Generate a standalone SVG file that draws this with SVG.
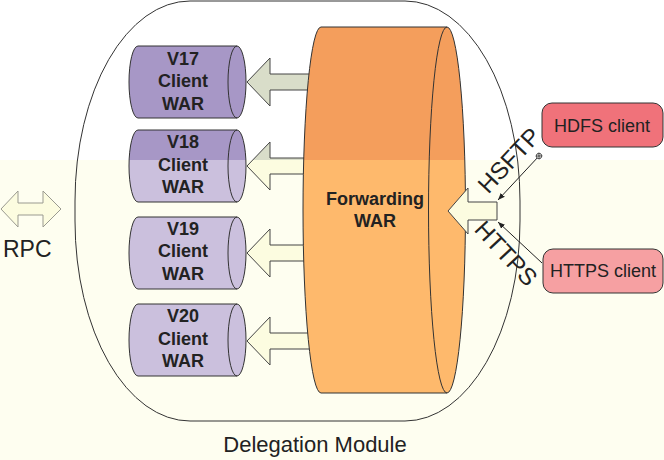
<svg xmlns="http://www.w3.org/2000/svg" width="664" height="460" viewBox="0 0 664 460">
<defs>
<linearGradient id="gPurple" gradientUnits="userSpaceOnUse" x1="0" y1="0" x2="0" y2="460">
<stop offset="0" stop-color="#a797c6"/><stop offset="0.3478" stop-color="#a797c6"/><stop offset="0.3478" stop-color="#cbc0dd"/><stop offset="1" stop-color="#cbc0dd"/>
</linearGradient>
<linearGradient id="gOrange" gradientUnits="userSpaceOnUse" x1="0" y1="0" x2="0" y2="460">
<stop offset="0" stop-color="#f49e5c"/><stop offset="0.3478" stop-color="#f49e5c"/><stop offset="0.3478" stop-color="#feb96c"/><stop offset="1" stop-color="#feb96c"/>
</linearGradient>
<linearGradient id="gArrow" gradientUnits="userSpaceOnUse" x1="0" y1="0" x2="0" y2="460">
<stop offset="0" stop-color="#d9ddc9"/><stop offset="0.3478" stop-color="#d9ddc9"/><stop offset="0.3478" stop-color="#fcfce0"/><stop offset="1" stop-color="#fcfce0"/>
</linearGradient>
<linearGradient id="gRed" gradientUnits="userSpaceOnUse" x1="0" y1="0" x2="0" y2="460">
<stop offset="0" stop-color="#f0727a"/><stop offset="0.3478" stop-color="#f0727a"/><stop offset="0.3478" stop-color="#f6a0a2"/><stop offset="1" stop-color="#f6a0a2"/>
</linearGradient>
<marker id="ah" viewBox="0 0 10 10" refX="10" refY="5" markerWidth="7" markerHeight="7" orient="auto" markerUnits="userSpaceOnUse">
<path d="M0,1 L10,5 L0,9 Z" fill="#222"/>
</marker>
<marker id="cx" viewBox="-5 -5 10 10" refX="0" refY="0" markerWidth="8" markerHeight="8" orient="auto" markerUnits="userSpaceOnUse">
<circle r="3.5" fill="#fff" stroke="#222" stroke-width="1"/>
<path d="M-2.5,-2.5 L2.5,2.5 M-2.5,2.5 L2.5,-2.5" stroke="#222" stroke-width="1"/>
</marker>
</defs>
<style>
.cyl{fill:url(#gPurple);stroke:#333;stroke-width:1}
.inner{fill:none;stroke:#333;stroke-width:1}
.blk{fill:url(#gArrow);stroke:#444;stroke-width:1}
.lbl{font-family:"Liberation Sans",Arial,sans-serif;font-weight:bold;font-size:18px;fill:#222;text-anchor:middle}
.txt{font-family:"Liberation Sans",Arial,sans-serif;fill:#222}
.client{fill:url(#gRed);stroke:#333;stroke-width:1}
.conn{fill:none;stroke:#222;stroke-width:1}
</style>
<rect x="0" y="0" width="664" height="460" fill="#ffffff"/>
<rect x="0" y="160" width="664" height="300" fill="#fefef0"/>

<g id="delegation-module">
<rect x="75" y="1" width="445" height="420" rx="115" ry="200" fill="none" stroke="#333" stroke-width="1"/>
<text class="txt" x="315" y="452" font-size="22" text-anchor="middle">Delegation Module</text>
</g>

<g id="rpc">
<path d="M1,209 L18,191 L18,203 L43,203 L43,191 L61,209 L43,227 L43,215 L18,215 L18,227 Z" fill="#fcfce0" stroke="#9a9a90" stroke-width="1"/>
<text class="txt" x="3" y="257" font-size="23">RPC</text>
</g>

<g id="connectors">
<path class="blk" d="M247,82 L270,58 L270,74 L315,74 L315,90 L270,90 L270,106 Z"/>
<path class="blk" d="M247,166 L270,142 L270,158 L315,158 L315,174 L270,174 L270,190 Z"/>
<path class="blk" d="M247,253 L270,229 L270,245 L315,245 L315,261 L270,261 L270,277 Z"/>
<path class="blk" d="M247,341 L270,317 L270,333 L315,333 L315,349 L270,349 L270,365 Z"/>
</g>

<g id="v17">
<path class="cyl" d="M138,46 L237,46 A9,36 0 0 1 237,118 L138,118 A9,36 0 0 1 138,46 Z"/>
<path class="inner" d="M237,46 A9,36 0 0 0 237,118"/>
<text class="lbl" x="183" y="65">V17</text>
<text class="lbl" x="183" y="87">Client</text>
<text class="lbl" x="183" y="110">WAR</text>
</g>

<g id="v18">
<path class="cyl" d="M138,130 L237,130 A9,36 0 0 1 237,202 L138,202 A9,36 0 0 1 138,130 Z"/>
<path class="inner" d="M237,130 A9,36 0 0 0 237,202"/>
<text class="lbl" x="183" y="148">V18</text>
<text class="lbl" x="183" y="171">Client</text>
<text class="lbl" x="183" y="193">WAR</text>
</g>

<g id="v19">
<path class="cyl" d="M138,217 L237,217 A9,36 0 0 1 237,289 L138,289 A9,36 0 0 1 138,217 Z"/>
<path class="inner" d="M237,217 A9,36 0 0 0 237,289"/>
<text class="lbl" x="183" y="235">V19</text>
<text class="lbl" x="183" y="257">Client</text>
<text class="lbl" x="183" y="280">WAR</text>
</g>

<g id="v20">
<path class="cyl" d="M138,304 L237,304 A9,36 0 0 1 237,376 L138,376 A9,36 0 0 1 138,304 Z"/>
<path class="inner" d="M237,304 A9,36 0 0 0 237,376"/>
<text class="lbl" x="183" y="322">V20</text>
<text class="lbl" x="183" y="345">Client</text>
<text class="lbl" x="183" y="367">WAR</text>
</g>

<g id="forwarding-war">
<path d="M321,27 L447,27 A18.5,183 0 0 1 447,393 L321,393 A18,183 0 0 1 321,27 Z" fill="url(#gOrange)" stroke="#333" stroke-width="1"/>
<path class="inner" d="M447,27 A18.5,183 0 0 0 447,393"/>
<text class="lbl" x="375" y="205" fill="#2e2418">Forwarding</text>
<text class="lbl" x="375" y="227" fill="#2e2418">WAR</text>
</g>

<g id="inbound">
<path class="blk" d="M448,211 L468,188 L468,202 L497,202 L497,220 L468,220 L468,234 Z"/>
<path class="conn" d="M539,156 L498,200" marker-start="url(#cx)" marker-end="url(#ah)"/>
<path class="conn" d="M542,263 L498,222" marker-end="url(#ah)"/>
<text class="txt" x="0" y="0" font-size="24" text-anchor="middle" transform="translate(515,166) rotate(-47)">HSFTP</text>
<text class="txt" x="0" y="0" font-size="24" text-anchor="middle" transform="translate(500,259) rotate(47)">HTTPS</text>
</g>

<g id="hdfs-client">
<rect class="client" x="542" y="103" width="121" height="44" rx="10" ry="10"/>
<text class="txt" x="602" y="132" font-size="18" text-anchor="middle" fill="#2a0c0c">HDFS client</text>
</g>

<g id="https-client">
<rect class="client" x="543" y="249" width="120" height="44" rx="10" ry="10"/>
<text class="txt" x="603" y="277" font-size="18" text-anchor="middle" fill="#2a0c0c">HTTPS client</text>
</g>
</svg>
